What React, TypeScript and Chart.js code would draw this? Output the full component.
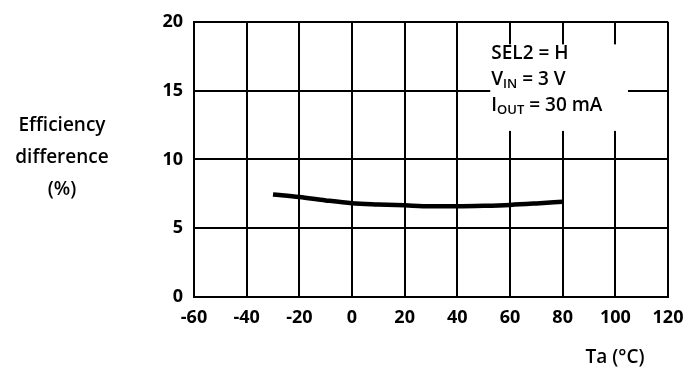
import React, { useEffect, useRef } from "react";
import { Chart, registerables } from "chart.js";

Chart.register(...registerables);

const temps = [-30, -20, -10, 0, 10, 20, 30, 40, 50, 60, 70, 80];
const effDiff = [7.45, 7.26, 7.02, 6.82, 6.73, 6.66, 6.6, 6.6, 6.63, 6.69, 6.8, 6.93];
const xTicks = [-60, -40, -20, 0, 20, 40, 60, 80, 100, 120];
const yTicks = [0, 5, 10, 15, 20];
const yTitleLines = ["Efficiency", "difference", "(%)"];
const xTitle = "Ta (°C)";

const FONT = "'Open Sans', 'DejaVu Sans', sans-serif";

const overlay = {
  id: "overlay",
  afterDraw(chart: any) {
    const ctx = chart.ctx as CanvasRenderingContext2D;
    const xs = chart.scales.x;
    const ys = chart.scales.y;
    ctx.save();
    // white box behind condition text
    const bx0 = xs.getPixelForValue(52.5);
    const bx1 = xs.getPixelForValue(104.8);
    const by0 = ys.getPixelForValue(18.36);
    const by1 = ys.getPixelForValue(12.07);
    ctx.fillStyle = "#fff";
    ctx.fillRect(bx0, by0, bx1 - bx0, by1 - by0);

    ctx.fillStyle = "#000";
    ctx.textBaseline = "middle";
    ctx.textAlign = "left";
    const big = `600 19px ${FONT}`;
    const small = `600 13px ${FONT}`;
    const tx = bx0 + 1;
    const drawSub = (main: string, sub: string, rest: string, y: number) => {
      let x = tx;
      ctx.font = big;
      ctx.fillText(main, x, y);
      x += ctx.measureText(main).width;
      ctx.font = small;
      ctx.fillText(sub, x, y + 4);
      x += ctx.measureText(sub).width;
      ctx.font = big;
      ctx.fillText(rest, x, y);
    };
    ctx.font = big;
    ctx.fillText("SEL2 = H", tx, 54);
    drawSub("V", "IN", " = 3 V", 80);
    drawSub("I", "OUT", " = 30 mA", 106);

    // y-axis title (horizontal, three lines)
    ctx.textAlign = "center";
    ctx.font = `600 19px ${FONT}`;
    const ly = [126, 158, 190];
    yTitleLines.forEach((t, i) => ctx.fillText(t, 62, ly[i]));
    // x-axis title
    ctx.fillText(xTitle, 615, 358);
    ctx.restore();
  },
};

export default function App() {
  const ref = useRef<HTMLCanvasElement>(null);
  useEffect(() => {
    const chart = new Chart(ref.current!, {
      type: "line",
      data: {
        datasets: [
          {
            data: temps.map((t, i) => ({ x: t, y: effDiff[i] })),
            borderColor: "#000",
            borderWidth: 4.5,
            pointRadius: 0,
            tension: 0.4,
            cubicInterpolationMode: "monotone",
            fill: false,
          },
        ],
      },
      options: {
        animation: false,
        responsive: false,
        maintainAspectRatio: false,
        layout: { padding: { left: 0, right: 26, top: 17, bottom: 0 } },
        plugins: { legend: { display: false }, tooltip: { enabled: false } },
        scales: {
          x: {
            type: "linear",
            min: -60,
            max: 120,
            afterBuildTicks: (s: any) => {
              s.ticks = xTicks.map((v) => ({ value: v }));
            },
            afterFit: (s: any) => {
              s.height = 75;
            },
            grid: { color: "#000", lineWidth: 2, drawTicks: false },
            border: { color: "#000", width: 2 },
            ticks: {
              color: "#000",
              padding: 10,
              font: { family: FONT, size: 18, weight: "bold" },
            },
          },
          y: {
            min: 0,
            max: 20,
            afterBuildTicks: (s: any) => {
              s.ticks = yTicks.map((v) => ({ value: v }));
            },
            afterFit: (s: any) => {
              s.width = 194;
            },
            grid: { color: "#000", lineWidth: 2, drawTicks: false },
            border: { color: "#000", width: 2 },
            ticks: {
              color: "#000",
              padding: 11,
              font: { family: FONT, size: 18, weight: "bold" },
            },
          },
        },
      },
      plugins: [overlay],
    } as any);
    return () => chart.destroy();
  }, []);
  return (
    <div style={{ position: "absolute", left: 0, top: 0, width: 694, height: 372, background: "#fff" }}>
      <canvas ref={ref} width={694} height={372} style={{ width: 694, height: 372 }} />
    </div>
  );
}
